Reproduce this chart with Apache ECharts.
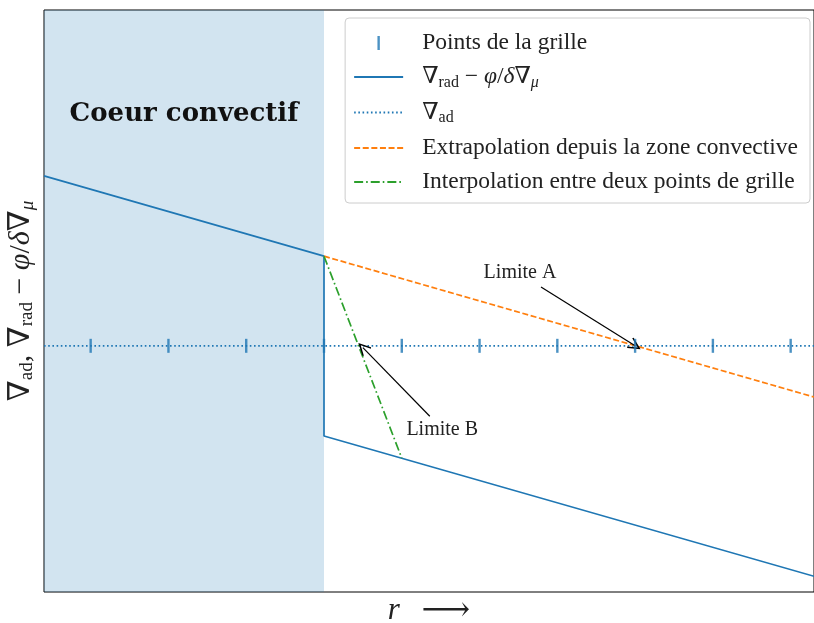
<!DOCTYPE html>
<html>
<head>
<meta charset="utf-8">
<script src="https://cdn.jsdelivr.net/npm/echarts@6/dist/echarts.min.js"></script>
<style>
html, body { margin: 0; padding: 0; background: #fff; }
#chart { width: 814px; height: 623px; }
</style>
</head>
<body>
<div id="chart"></div>
<script>
// grid points (r positions) and gradients
var gridR = [0.6, 1.6, 2.6, 3.6, 4.6, 5.6, 6.6, 7.6, 8.6, 9.6];
var gradAd = 4.23;
var gradRad = [[0, 7.15], [3.6, 5.77], [3.6, 2.68], [9.9, 0.27]];
var extrap = [[3.6, 5.77], [9.9, 3.35]];
var interp = [[3.6, 5.77], [4.6, 2.30]];
var coreEdge = 3.6;
var rMax = 9.9;
var arrowA = [[6.39, 5.24], [7.6, 4.23]];
var arrowB = [[4.96, 3.02], [4.1, 4.2]];
var labelA = [6.12, 5.49];
var labelB = [5.12, 2.78];

var serif = '"Liberation Serif", "DejaVu Serif", serif';
var C0 = '#1f77b4';
var rich = {
    n: { fontFamily: serif, fontSize: 23.5, color: '#222' },
    i: { fontFamily: serif, fontSize: 23.5, color: '#222', fontStyle: 'italic' },
    s: { fontFamily: serif, fontSize: 16, color: '#222', padding: [11, 0, 0, 0] },
    si: { fontFamily: serif, fontSize: 16, color: '#222', fontStyle: 'italic', padding: [11, 0, 0, 0] }
};
var richNames = {
    'grad_rad': '{n|∇}{s|rad}{n| − }{i|φ}{n|/}{i|δ}{n|∇}{si|μ}',
    'grad_ad': '{n|∇}{s|ad}'
};
var adLine = [[0, gradAd], [rMax, gradAd]];
var ticks = gridR.map(function (r) { return [r, gradAd]; });
var chevron = 'path://M0,0 L8,12 L6.6,13 L0,3.4 L-6.6,13 L-8,12 Z';
var noMark = { opacity: 0 };

var chart = echarts.init(document.getElementById('chart'));
chart.setOption({
    animation: false,
    grid: {
        left: 44, right: 0, top: 10, bottom: 31, show: true, borderColor: '#000', borderWidth: 1,
        containLabel: false, outerBoundsMode: 'none'
    },
    xAxis: {
        type: 'value', min: 0, max: rMax,
        axisLine: { show: false }, axisTick: { show: false }, axisLabel: { show: false }, splitLine: { show: false },
        name: '{r|r}{a|  ⟶}', nameLocation: 'middle', nameGap: 2,
        nameTextStyle: { rich: {
            r: { fontFamily: serif, fontSize: 31, fontStyle: 'italic', color: '#222' },
            a: { fontFamily: '"DejaVu Serif", serif', fontSize: 34, color: '#222' }
        } }
    },
    yAxis: {
        type: 'value', min: 0, max: 10,
        axisLine: { show: false }, axisTick: { show: false }, axisLabel: { show: false }, splitLine: { show: false },
        name: '{n|∇}{s|ad}{n|, ∇}{s|rad}{n| − }{i|φ}{n|/}{i|δ}{n|∇}{si|μ}',
        nameLocation: 'middle', nameGap: 7, nameRotate: 90,
        nameTextStyle: { rich: {
            n: { fontFamily: serif, fontSize: 30, color: '#222' },
            i: { fontFamily: serif, fontSize: 30, color: '#222', fontStyle: 'italic' },
            s: { fontFamily: serif, fontSize: 19, color: '#222', padding: [13, 0, 0, 0] },
            si: { fontFamily: serif, fontSize: 19, color: '#222', fontStyle: 'italic', padding: [13, 0, 0, 0] }
        } }
    },
    legend: {
        orient: 'vertical', right: 4, top: 18,
        padding: [13, 12, 9, 8], itemGap: 10, itemWidth: 49, itemHeight: 14,
        backgroundColor: '#fff', borderColor: '#cccccc', borderWidth: 1, borderRadius: 4,
        textStyle: { fontFamily: serif, fontSize: 23.5, color: '#222', lineHeight: 23, padding: [0, 0, 0, 14], rich: rich },
        formatter: function (name) { return richNames[name] || '{n|' + name + '}'; },
        data: [
            { name: 'Points de la grille', icon: 'path://M0,0h2.4v14h-2.4z' },
            { name: 'grad_rad', itemStyle: noMark },
            { name: 'grad_ad', itemStyle: noMark },
            { name: 'Extrapolation depuis la zone convective', itemStyle: noMark },
            { name: 'Interpolation entre deux points de grille', itemStyle: noMark }
        ]
    },
    series: [
        {
            name: 'Points de la grille', type: 'scatter', data: ticks, z: 5,
            symbol: 'rect', symbolSize: [2.4, 14], itemStyle: { color: C0 }
        },
        {
            name: 'grad_rad', type: 'line', data: gradRad, showSymbol: false, symbol: 'none',
            lineStyle: { color: C0, width: 1.7 }, itemStyle: { color: C0 },
            markArea: {
                silent: true,
                itemStyle: { color: 'rgba(31,119,180,0.2)' },
                label: {
                    show: true, position: 'insideTop', distance: 91,
                    fontFamily: '"DejaVu Serif", serif', fontSize: 26, fontWeight: 'bold', color: '#111'
                },
                data: [[{ name: 'Coeur convectif', xAxis: 0 }, { xAxis: coreEdge }]]
            }
        },
        {
            name: 'grad_ad', type: 'line', data: adLine, showSymbol: false, symbol: 'none',
            lineStyle: { color: C0, width: 1.8, type: [1.6, 2.6] }, itemStyle: { color: C0 },
            markLine: {
                silent: true, symbol: ['none', chevron], symbolSize: [12, 13],
                lineStyle: { color: '#000', width: 1.2, type: 'solid' },
                label: { show: false },
                data: [
                    [{ coord: arrowA[0] }, { coord: arrowA[1] }],
                    [{ coord: arrowB[0] }, { coord: arrowB[1] }]
                ]
            },
            markPoint: {
                silent: true, symbol: 'circle', symbolSize: 0,
                label: { show: true, position: 'inside', fontFamily: serif, fontSize: 20, color: '#222', formatter: '{b}' },
                data: [
                    { name: 'Limite A', coord: labelA },
                    { name: 'Limite B', coord: labelB }
                ]
            }
        },
        {
            name: 'Extrapolation depuis la zone convective', type: 'line', data: extrap, showSymbol: false, symbol: 'none',
            lineStyle: { color: '#ff7f0e', width: 1.7, type: [6, 2.6] }, itemStyle: { color: '#ff7f0e' }
        },
        {
            name: 'Interpolation entre deux points de grille', type: 'line', data: interp, showSymbol: false, symbol: 'none',
            lineStyle: { color: '#2ca02c', width: 1.7, type: [9, 3, 1.6, 3] }, itemStyle: { color: '#2ca02c' }
        }
    ]
});
</script>
</body>
</html>
